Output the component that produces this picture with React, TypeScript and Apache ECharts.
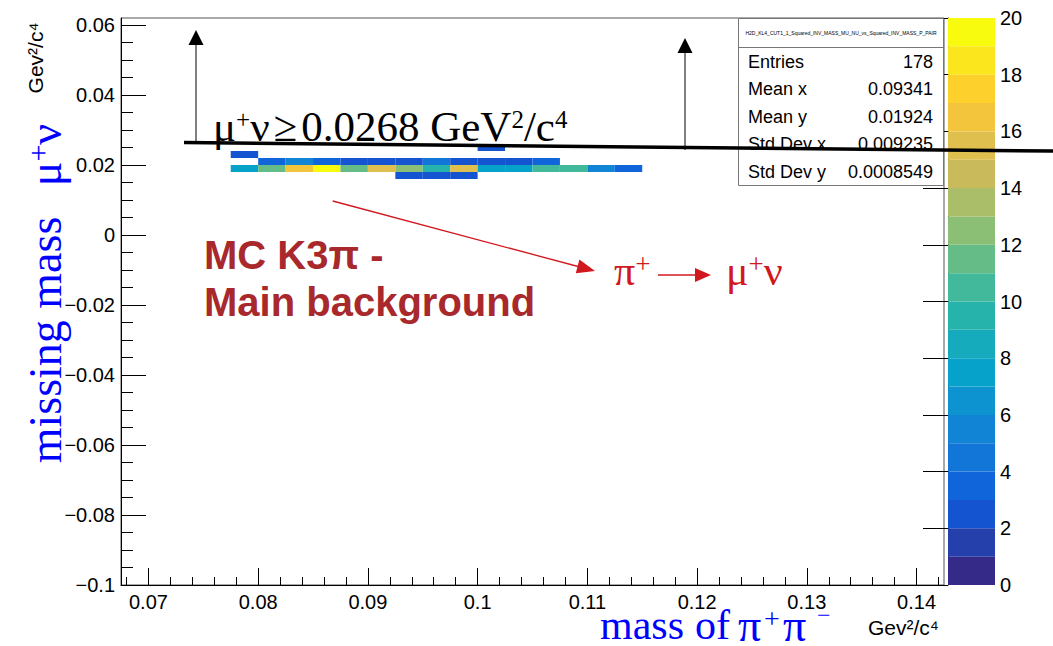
import React, { useEffect, useRef } from 'react';
import * as echarts from 'echarts';

// ---------------- data ----------------
const xMin = 0.0675;
const xMax = 0.1425;
const yMin = -0.1;
const yMax = 0.062;
const xBinWidth = 0.0025;
const yBinWidth = 0.002;

const xTickLabels = [0.07, 0.08, 0.09, 0.1, 0.11, 0.12, 0.13, 0.14];
const yTickLabels = [-0.1, -0.08, -0.06, -0.04, -0.02, 0, 0.02, 0.04, 0.06];
const zLevels = [0, 1, 2, 3, 4, 5, 6, 7, 8, 9, 10, 11, 12, 13, 14, 15, 16, 17, 18, 19];

// rows of the 2D histogram: lower y edge, lower x edge of first filled bin, counts
const rowLowY = [0.024, 0.022, 0.02, 0.018, 0.016];
const rowFirstX = [0.1, 0.0775, 0.08, 0.0775, 0.0925];
const countsRow024 = [2];
const countsRow022 = [2];
const countsRow020 = [3, 5, 3, 2, 2, 2, 4, 2, 2, 2, 3];
const countsRow018 = [7, 11, 16, 20, 11, 15, 12, 9, 15, 7, 7, 10, 10, 5, 3];
const countsRow016 = [2, 2, 2];
const rowCounts = [countsRow024, countsRow022, countsRow020, countsRow018, countsRow016];

const statsTitle = 'H2D_KL4_CUT1_1_Squared_INV_MASS_MU_NU_vs_Squared_INV_MASS_P_PAIR';
const statsLabels = ['Entries', 'Mean x', 'Mean y', 'Std Dev x', 'Std Dev y'];
const statsValues = ['178', '0.09341', '0.01924', '0.009235', '0.0008549'];

// ---------------- palette (ROOT kBird) ----------------
const bStops = [0, 0.125, 0.25, 0.375, 0.5, 0.625, 0.75, 0.875, 1];
const bRed = [0.2082, 0.0592, 0.078, 0.0232, 0.1802, 0.5301, 0.8186, 0.9956, 0.9764];
const bGreen = [0.1664, 0.3599, 0.5041, 0.6419, 0.7178, 0.7492, 0.7328, 0.7862, 0.9832];
const bBlue = [0.5293, 0.8684, 0.8385, 0.7914, 0.6425, 0.4662, 0.3499, 0.1968, 0.0539];
function bird(t: number): string {
  let k = 0;
  while (k < bStops.length - 2 && t > bStops[k + 1]) k++;
  const f = (t - bStops[k]) / (bStops[k + 1] - bStops[k]);
  const c = (a: number[]) => Math.round(255 * (a[k] + (a[k + 1] - a[k]) * f));
  return `rgb(${c(bRed)},${c(bGreen)},${c(bBlue)})`;
}
const levelColor = (i: number) => bird(i / 19);

const SANS = '"Liberation Sans", Arial, sans-serif';
const SERIF = '"Liberation Serif", "Times New Roman", serif';

const fmt = (v: number) => {
  const s = parseFloat(Number(v).toFixed(4)).toString();
  return s.replace('-', '\u2212');
};

function txt(text: string, x: number, y: number, size: number, family: string, fill: string, o: any = {}) {
  const style: any = {
    text,
    x: 0,
    y: 0,
    fontSize: size,
    fontFamily: family,
    fontWeight: o.weight || 'normal',
    fill,
    align: o.align || 'left',
    textAlign: o.align || 'left',
    verticalAlign: 'middle',
    textVerticalAlign: 'middle',
  };
  if (o.lineHeight) style.lineHeight = o.lineHeight;
  if (o.sup) {
    style.rich = {
      b: { fontSize: size, fontFamily: family, fill, color: fill, verticalAlign: 'bottom' },
      g: { fontSize: size, fontFamily: family, fill, color: fill, verticalAlign: 'bottom', padding: [0, 4, 0, 4] },
      s: { fontSize: o.sup, fontFamily: family, fill, color: fill, verticalAlign: 'top', padding: [o.supPad || 0, 0, 0, 0] },
    };
  }
  return { type: 'text', x, y, rotation: o.rotation || 0, z: 100, style };
}

export default function App() {
  const ref = useRef<HTMLDivElement>(null);
  useEffect(() => {
    if (!ref.current) return;
    const chart = echarts.init(ref.current, undefined, { renderer: 'svg' });

    const cells: number[][] = [];
    rowCounts.forEach((counts, r) => {
      counts.forEach((c, i) => {
        const x0 = rowFirstX[r] + i * xBinWidth;
        const y0 = rowLowY[r];
        cells.push([x0, y0, x0 + xBinWidth, y0 + yBinWidth, c]);
      });
    });
    const barCells = zLevels.map((l) => [0, l, 1, l + 1, l]);

    const xMinor: number[] = [];
    for (let i = 0; i <= 40; i++) {
      const v = +(0.068 + i * 0.002).toFixed(4);
      if (v > xMax) break;
      if (Math.abs(v * 100 - Math.round(v * 100)) > 1e-6) xMinor.push(v);
    }
    const yMinor: number[] = [];
    for (let i = 0; i <= 40; i++) {
      const v = +(-0.095 + i * 0.005).toFixed(4);
      if (v > yMax) break;
      if (Math.abs(v * 50 - Math.round(v * 50)) > 1e-6) yMinor.push(v);
    }

    const rectItem = (colorFn: (v: number) => string) => (params: any, api: any) => {
      const p0 = api.coord([api.value(0), api.value(3)]);
      const p1 = api.coord([api.value(2), api.value(1)]);
      return {
        type: 'rect',
        shape: { x: p0[0], y: p0[1], width: p1[0] - p0[0], height: p1[1] - p0[1] },
        style: { fill: colorFn(api.value(4)) },
      };
    };

    const graphics: any[] = [];
    // stats box
    graphics.push({ type: 'rect', z: 90, shape: { x: 738.5, y: 18.5, width: 205, height: 167 }, style: { fill: '#fff', stroke: '#777', lineWidth: 1 } });
    graphics.push({ type: 'line', z: 91, shape: { x1: 738.5, y1: 47.5, x2: 943.5, y2: 47.5 }, style: { stroke: '#777', lineWidth: 1 } });
    graphics.push(txt(statsTitle, 841, 33, 5, SANS, '#000', { align: 'center' }));
    statsLabels.forEach((l, i) => {
      const yy = 61.5 + i * 27.5;
      graphics.push(txt(l, 748, yy, 18, SANS, '#000'));
      graphics.push(txt(statsValues[i], 933, yy, 18, SANS, '#000', { align: 'right' }));
    });

    // black cut line and arrows
    graphics.push({ type: 'line', z: 110, shape: { x1: 184, y1: 142.5, x2: 1053, y2: 151 }, style: { stroke: '#000', lineWidth: 3.5 } });
    graphics.push({ type: 'line', z: 105, shape: { x1: 196, y1: 143, x2: 196, y2: 44 }, style: { stroke: '#000', lineWidth: 1 } });
    graphics.push({ type: 'polygon', z: 105, shape: { points: [[196, 30], [188.5, 45], [203.5, 45]] }, style: { fill: '#000' } });
    graphics.push({ type: 'line', z: 105, shape: { x1: 685, y1: 150, x2: 685, y2: 52 }, style: { stroke: '#000', lineWidth: 1 } });
    graphics.push({ type: 'polygon', z: 105, shape: { points: [[685, 38], [677.5, 53], [692.5, 53]] }, style: { fill: '#000' } });
    graphics.push(
      txt('{b|\u03bc}{s|+}{b|\u03bd}{g|\u2265}{b|0.0268 GeV}{s|2}{b|/c}{s|4}', 213, 126, 43, SERIF, '#000', { sup: 25, supPad: 2 })
    );

    // red annotations
    const darkRed = '#a8282c';
    const red = '#d0181e';
    graphics.push(txt('MC K3\u03c0 -', 204, 255, 40, SANS, darkRed, { weight: 'bold' }));
    graphics.push(txt('Main background', 204, 302, 40, SANS, darkRed, { weight: 'bold' }));
    graphics.push({ type: 'line', z: 105, shape: { x1: 332.7, y1: 201, x2: 580, y2: 267 }, style: { stroke: red, lineWidth: 1.3 } });
    graphics.push({ type: 'polygon', z: 105, shape: { points: [[595, 271], [575.8, 273.2], [579.4, 259.6]] }, style: { fill: red } });
    graphics.push(txt('{b|\u03c0}{s|+}', 614, 271, 42, SERIF, red, { sup: 27 }));
    graphics.push({ type: 'line', z: 105, shape: { x1: 658, y1: 275, x2: 698, y2: 275 }, style: { stroke: red, lineWidth: 1.3 } });
    graphics.push({ type: 'polygon', z: 105, shape: { points: [[711, 275], [695, 268], [695, 282]] }, style: { fill: red } });
    graphics.push(txt('{b|\u03bc}{s|+}{b|\u03bd}', 726, 271, 42, SERIF, red, { sup: 27 }));

    // axis titles
    const blue = '#0000ff';
    graphics.push(txt('mass', 600, 625, 42, SERIF, blue, { lineHeight: 26 }));
    graphics.push(txt('of', 695, 625, 42, SERIF, blue, { lineHeight: 26 }));
    graphics.push(txt('\u03c0', 738, 625, 46, SERIF, blue, { lineHeight: 26 }));
    graphics.push(txt('+', 764, 618, 28, SERIF, blue, { lineHeight: 16 }));
    graphics.push(txt('\u03c0', 783, 625, 46, SERIF, blue, { lineHeight: 26 }));
    graphics.push(txt('\u2212', 817, 615, 24, SERIF, blue, { lineHeight: 14 }));
    graphics.push(txt('Gev\u00b2/c\u2074', 868, 627, 21, SANS, '#000', { lineHeight: 16 }));
    graphics.push(txt('missing mass', 45, 340, 46, SERIF, blue, { align: 'center', rotation: Math.PI / 2 }));
    graphics.push(txt('{b|\u03bc}{s|+}{b|\u03bd}', 45, 155, 46, SERIF, blue, { align: 'center', rotation: Math.PI / 2, sup: 30 }));
    graphics.push(txt('Gev\u00b2/c\u2074', 35, 58, 21, SANS, '#000', { align: 'center', rotation: Math.PI / 2 }));

    const tickStyle = { color: '#000', width: 1 };
    chart.setOption({
      animation: false,
      textStyle: { fontFamily: SANS },
      grid: [
        { left: 121, top: 18, width: 823, height: 567, show: true, borderColor: '#555', borderWidth: 1, backgroundColor: 'transparent' },
        { left: 948, top: 18, width: 47, height: 567, show: false },
      ],
      xAxis: [
        {
          type: 'value', gridIndex: 0, min: xMin, max: xMax, position: 'bottom',
          axisLine: { show: true, onZero: false, lineStyle: { color: '#000' } },
          axisTick: { show: true, inside: true, length: 17, customValues: xTickLabels, lineStyle: tickStyle },
          axisLabel: { show: true, customValues: xTickLabels, fontSize: 20, margin: 7, color: '#000', formatter: fmt },
          splitLine: { show: false },
        },
        {
          type: 'value', gridIndex: 0, min: xMin, max: xMax, position: 'bottom',
          axisLine: { show: false, onZero: false },
          axisTick: { show: true, inside: true, length: 8, customValues: xMinor, lineStyle: tickStyle },
          axisLabel: { show: false },
          splitLine: { show: false },
        },
        { type: 'value', gridIndex: 1, min: 0, max: 1, show: false },
      ],
      yAxis: [
        {
          type: 'value', gridIndex: 0, min: yMin, max: yMax, position: 'left',
          axisLine: { show: true, onZero: false, lineStyle: { color: '#000' } },
          axisTick: { show: true, inside: true, length: 25, customValues: yTickLabels, lineStyle: tickStyle },
          axisLabel: { show: true, customValues: yTickLabels, fontSize: 20, margin: 6, color: '#000', formatter: fmt },
          splitLine: { show: false },
        },
        {
          type: 'value', gridIndex: 0, min: yMin, max: yMax, position: 'left',
          axisLine: { show: false, onZero: false },
          axisTick: { show: true, inside: true, length: 12, customValues: yMinor, lineStyle: tickStyle },
          axisLabel: { show: false },
          splitLine: { show: false },
        },
        {
          type: 'value', gridIndex: 1, min: 0, max: 20, interval: 2, position: 'right',
          axisLine: { show: true, lineStyle: { color: '#000' } },
          axisTick: { show: true, inside: true, length: 25, lineStyle: tickStyle },
          axisLabel: { show: true, fontSize: 20, margin: 5, color: '#000' },
          splitLine: { show: false },
        },
      ],
      series: [
        {
          type: 'custom', xAxisIndex: 0, yAxisIndex: 0, data: cells,
          encode: { x: [0, 2], y: [1, 3] },
          renderItem: rectItem((v) => levelColor(Math.min(19, Math.floor(v)))),
          z: 2,
        },
        {
          type: 'custom', xAxisIndex: 2, yAxisIndex: 2, data: barCells,
          encode: { x: [0, 2], y: [1, 3] },
          renderItem: rectItem((v) => levelColor(v)),
          z: 2,
        },
      ],
      graphic: graphics,
    });
    return () => chart.dispose();
  }, []);
  return <div ref={ref} style={{ position: 'fixed', left: 0, top: 0, width: 1053, height: 646, background: '#fff' }} />;
}
